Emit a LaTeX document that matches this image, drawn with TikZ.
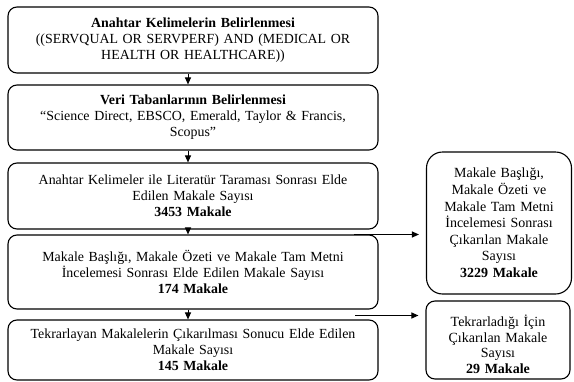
\documentclass[tikz,border=0pt]{standalone}
\usepackage{fontspec}
\setmainfont{Liberation Serif}
\usetikzlibrary{arrows.meta}
\begin{document}
\begin{tikzpicture}[x=1pt,y=-1pt,
  box/.style={draw, line width=1.1pt, rounded corners=9pt, align=center, inner sep=0pt, font=\fontsize{13.9}{16}\selectfont},
  mainbox/.style={box, minimum width=370pt, text width=364pt},
  sidebox/.style={box, minimum width=145pt, text width=142pt, font=\fontsize{14}{16.6}\selectfont},
  arr/.style={line width=1pt, -{Triangle[length=7pt,width=6pt]}}
]
\useasboundingbox (0,0) rectangle (574,381);
\node[mainbox, minimum height=66pt] (b1) at (193,40) {\textbf{Anahtar Kelimelerin Belirlenmesi}\\((SERVQUAL OR SERVPERF) AND (MEDICAL OR\\HEALTH OR HEALTHCARE))};
\node[mainbox, minimum height=65pt] (b2) at (193,117.5) {\textbf{Veri Tabanlarının Belirlenmesi}\\“Science Direct, EBSCO, Emerald, Taylor \& Francis,\\Scopus”};
\node[mainbox, minimum height=66pt] (b3) at (193,196) {Anahtar Kelimeler ile Literatür Taraması Sonrası Elde\\Edilen Makale Sayısı\\\textbf{3453 Makale}};
\node[mainbox, minimum height=74pt] (b4) at (193,272) {Makale Başlığı, Makale Özeti ve Makale Tam Metni\\İncelemesi Sonrası Elde Edilen Makale Sayısı\\\textbf{174 Makale}\\[7pt]};
\node[mainbox, minimum height=60pt] (b5) at (193,350) {Tekrarlayan Makalelerin Çıkarılması Sonucu Elde Edilen\\Makale Sayısı\\\textbf{145 Makale}\\[11pt]};
\node[sidebox, rounded corners=16pt, minimum height=142pt] (r1) at (499,223) {Makale Başlığı,\\Makale Özeti ve\\Makale Tam Metni\\İncelemesi Sonrası\\Çıkarılan Makale\\Sayısı\\\textbf{3229 Makale}\\[6pt]};
\node[sidebox, minimum width=144pt, minimum height=78pt, font=\fontsize{14}{15.5}\selectfont] (r2) at (498,340) {\\[4.5pt]Tekrarladığı İçin\\Çıkarılan Makale\\Sayısı\\\textbf{29 Makale}};
\coordinate (vx) at (188,0);
\coordinate (h1) at (354,234.5);
\coordinate (h2) at (355,315.5);
\draw[arr] (b1.south -| vx) -- (b2.north -| vx);
\draw[arr] (b2.south -| vx) -- (b3.north -| vx);
\draw[arr] (b3.south -| vx) -- (b4.north -| vx);
\draw[arr] (b4.south -| vx) -- (b5.north -| vx);
\draw[arr, shorten >=7pt] (h1) -- (h1 -| r1.west);
\draw[arr, shorten >=7pt] (h2) -- (h2 -| r2.west);
\end{tikzpicture}
\end{document}
